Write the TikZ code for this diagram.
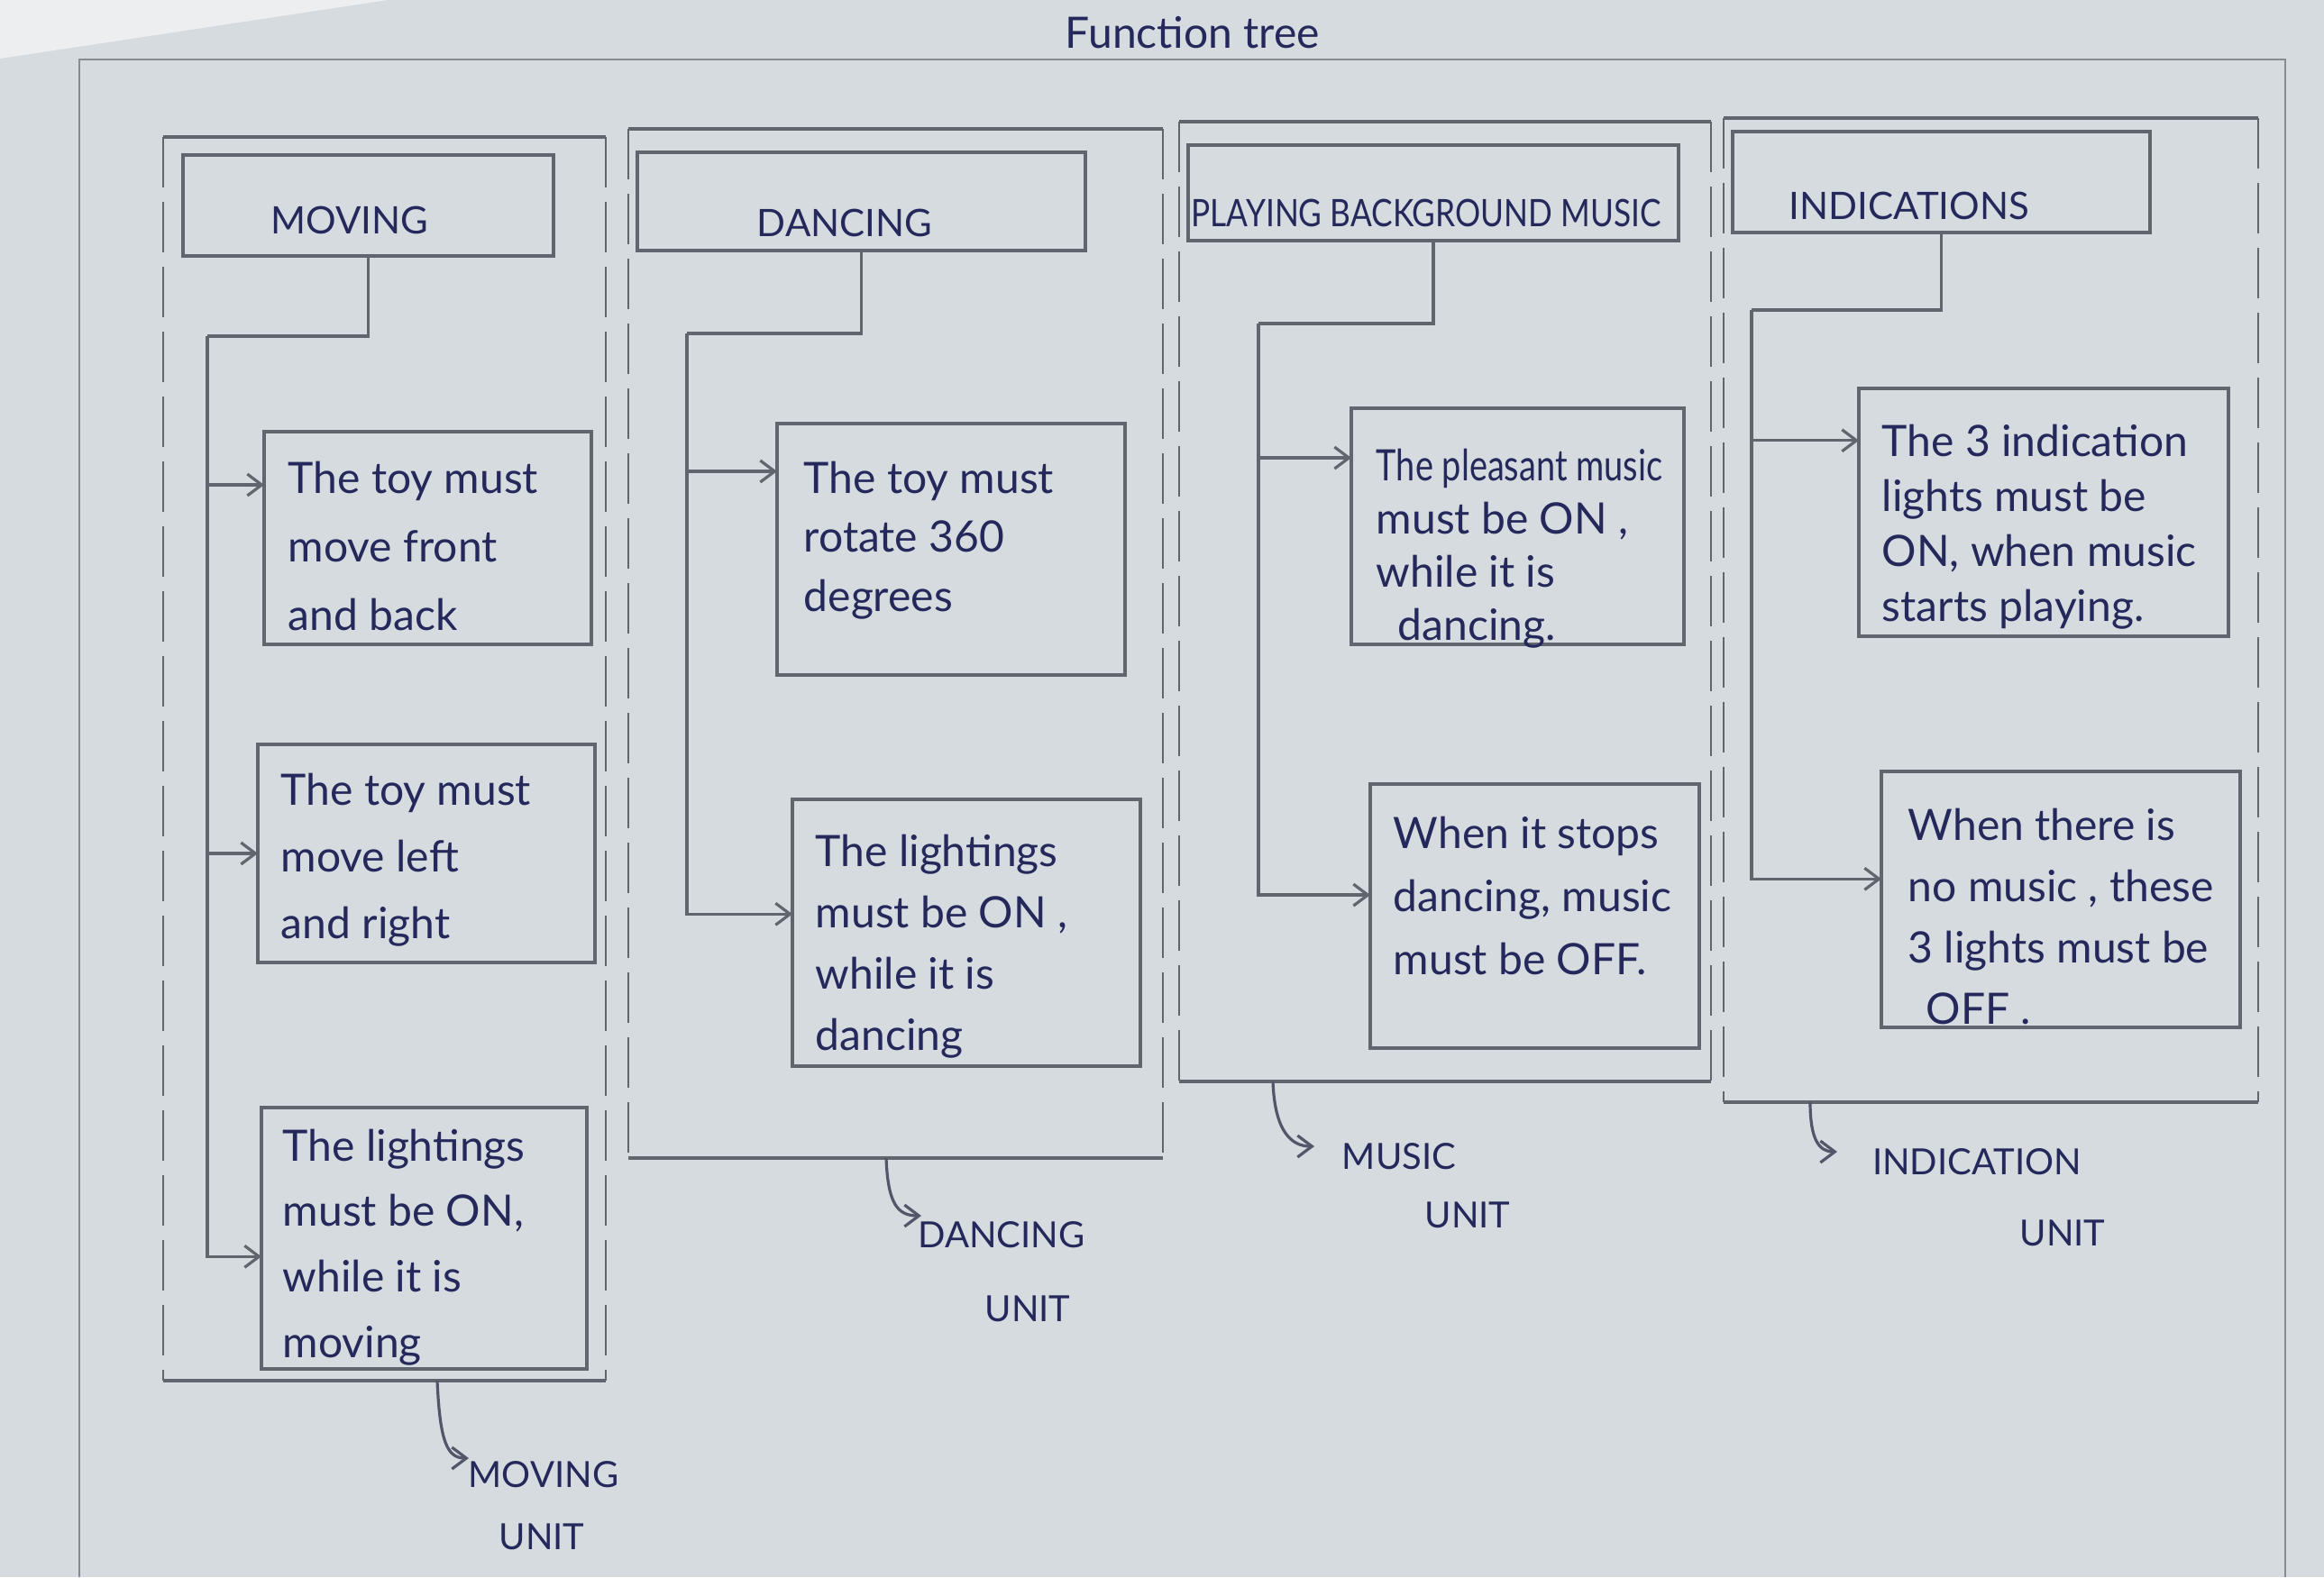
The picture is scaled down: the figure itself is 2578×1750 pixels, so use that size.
\documentclass[tikz,border=0pt]{standalone}
\usepackage{fontspec}
\usepackage{graphicx}
\usetikzlibrary{arrows.meta,fit,calc}
\newfontfamily\hand{Lato}
\definecolor{paper}{HTML}{D6DBE0}
\definecolor{sheet}{HTML}{ECEEF0}
\definecolor{ink}{HTML}{24285A}
\definecolor{pencil}{HTML}{60656E}
\definecolor{faint}{HTML}{868C94}

\begin{document}
\begin{tikzpicture}[x=0.25pt,y=-0.25pt,
  boxline/.style={draw=pencil,line width=0.8pt,inner sep=0pt,outer sep=0pt},
  conn/.style={draw=pencil,line width=0.8pt},
  arrowend/.style={-{Straight Barb[length=4pt,width=6pt]}},
  grp/.style={draw=pencil,line width=0.8pt},
  grpside/.style={draw=pencil,line width=0.7pt,dash pattern=on 14pt off 4pt},
  body/.style={font=\hand\fontsize{12}{#1}\selectfont,text=ink,align=left,anchor=north west,inner sep=0pt},
  captxt/.style={font=\hand\fontsize{10.5}{12}\selectfont,text=ink,inner sep=0pt},
  unittxt/.style={font=\hand\fontsize{10}{12}\selectfont,text=ink,inner sep=0pt},
  unitarrow/.style={draw=pencil!75!ink,line width=0.8pt,-{Straight Barb[length=4pt,width=6pt]}},
]
\useasboundingbox (0,0) rectangle (2578,1750);
\fill[paper] (0,0) rectangle (2578,1750);
\fill[sheet] (0,0) -- (430,0) -- (0,65) -- cycle;

% title and sheet frame
\node[font=\hand\fontsize{12}{14}\selectfont,text=ink] (title) at (1323,36) {Function tree};
\draw[faint,line width=0.7pt] (88,1750) -- (88,66) -- (2535,66) -- (2535,1750);

% unit frames: solid top and bottom, dashed sides
\foreach \l/\t/\r/\b in {181/152/672/1532, 697/143/1290/1285, 1308/135/1898/1200, 1912/131/2505/1223} {
  \draw[grp] (\l,\t) -- (\r,\t);
  \draw[grp] (\l,\b) -- (\r,\b);
  \draw[grpside] (\l,\t) -- (\l,\b);
  \draw[grpside] (\r,\t) -- (\r,\b);
}

% ---------- moving ----------
\node[boxline,fit={(203,172) (614,284)}] (mh) {};
\node[captxt] (mht) at (388,244) {MOVING};
\coordinate (mj) at (230,373);
\node[boxline,fit={(293,479) (656,715)}] (m1) {};
\node[boxline,fit={(286,826) (660,1068)}] (m2) {};
\node[boxline,fit={(290,1229) (651,1519)}] (m3) {};
\node[body=19pt] (m1t) at (319,511) {The toy must\\move front\\and back};
\node[body=18.5pt] (m2t) at (311,857) {The toy must\\move left\\and right};
\node[body=18.2pt] (m3t) at (313,1252) {The lightings\\must be ON,\\while it is\\moving};
\draw[conn] (mh.south) |- (mj);
\draw[conn,arrowend] (mj) |- ($(m1.north west)!0.25!(m1.south west)$);
\draw[conn,arrowend] (mj) |- ($(m2.north west)!0.5!(m2.south west)$);
\draw[conn,arrowend] (mj) |- ($(m3.north west)!0.57!(m3.south west)$);

% ---------- dancing ----------
\node[boxline,fit={(707,169) (1204,278)}] (dh) {};
\node[captxt] (dht) at (937,247) {DANCING};
\coordinate (dj) at (762,370);
\node[boxline,fit={(862,470) (1248,749)}] (d1) {};
\node[boxline,fit={(879,887) (1265,1183)}] (d2) {};
\node[body=16.4pt] (d1t) at (891,511) {The toy must\\rotate 360\\degrees};
\node[body=17pt] (d2t) at (904,925) {The lightings\\must be ON ,\\while it is\\dancing};
\draw[conn] (dh.south) |- (dj);
\draw[conn,arrowend] (dj) |- ($(d1.north west)!0.19!(d1.south west)$);
\draw[conn,arrowend] (dj) |- ($(d2.north west)!0.43!(d2.south west)$);

% ---------- music ----------
\node[boxline,fit={(1318,161) (1862,267)}] (ph) {};
\node[captxt] (pht) at (1582,236) {\scalebox{0.84}[1]{PLAYING BACKGROUND MUSIC}};
\coordinate (pj) at (1396,359);
\node[boxline,fit={(1499,453) (1868,715)}] (p1) {};
\node[boxline,fit={(1520,870) (1885,1163)}] (p2) {};
\node[body=14.8pt] (p1t) at (1526,497) {\scalebox{0.79}[1]{The pleasant music}\\must be ON ,\\while it is\\\hspace*{6pt}dancing.};
\node[body=17.5pt] (p2t) at (1545,905) {When it stops\\dancing, music\\must be OFF.};
\draw[conn] (ph.south) |- (pj);
\draw[conn,arrowend] (pj) |- ($(p1.north west)!0.21!(p1.south west)$);
\draw[conn,arrowend] (pj) |- ($(p2.north west)!0.42!(p2.south west)$);

% ---------- indications ----------
\node[boxline,fit={(1922,146) (2385,258)}] (ih) {};
\node[captxt] (iht) at (2118,228) {INDICATIONS};
\coordinate (ij) at (1943,344);
\node[boxline,fit={(2062,431) (2472,706)}] (i1) {};
\node[boxline,fit={(2087,856) (2485,1140)}] (i2) {};
\node[body=15.3pt] (i1t) at (2087,470) {The 3 indication\\lights must be\\ON, when music\\starts playing.};
\node[body=17pt] (i2t) at (2116,896) {When there is\\no music , these\\3 lights must be\\\hspace*{5pt}OFF .};
\draw[conn] (ih.south) |- (ij);
\draw[conn,arrowend] (ij) |- ($(i1.north west)!0.21!(i1.south west)$);
\draw[conn,arrowend] (ij) |- ($(i2.north west)!0.42!(i2.south west)$);

% ---------- unit labels ----------
\node[unittxt] (u1a) at (603,1636) {MOVING};
\node[unittxt] (u1b) at (601,1705) {UNIT};
\node[unittxt] (u2a) at (1111,1370) {DANCING};
\node[unittxt] (u2b) at (1140,1452) {UNIT};
\node[unittxt] (u3a) at (1552,1283) {MUSIC};
\node[unittxt] (u3b) at (1628,1348) {UNIT};
\node[unittxt] (u4a) at (2193,1289) {INDICATION};
\node[unittxt] (u4b) at (2288,1368) {UNIT};

\coordinate (u1s) at (485,1532);  \coordinate (u1e) at (520,1618);
\coordinate (u2s) at (983,1285);  \coordinate (u2e) at (1022,1349);
\coordinate (u3s) at (1412,1200); \coordinate (u3e) at (1458,1272);
\coordinate (u4s) at (2008,1223); \coordinate (u4e) at (2038,1278);
\draw[unitarrow] (u1s) .. controls (488,1600) and (496,1618) .. (u1e);
\draw[unitarrow] (u2s) .. controls (985,1335) and (995,1349) .. (u2e);
\draw[unitarrow] (u3s) .. controls (1414,1255) and (1432,1272) .. (u3e);
\draw[unitarrow] (u4s) .. controls (2008,1265) and (2018,1278) .. (u4e);
\end{tikzpicture}
\end{document}
